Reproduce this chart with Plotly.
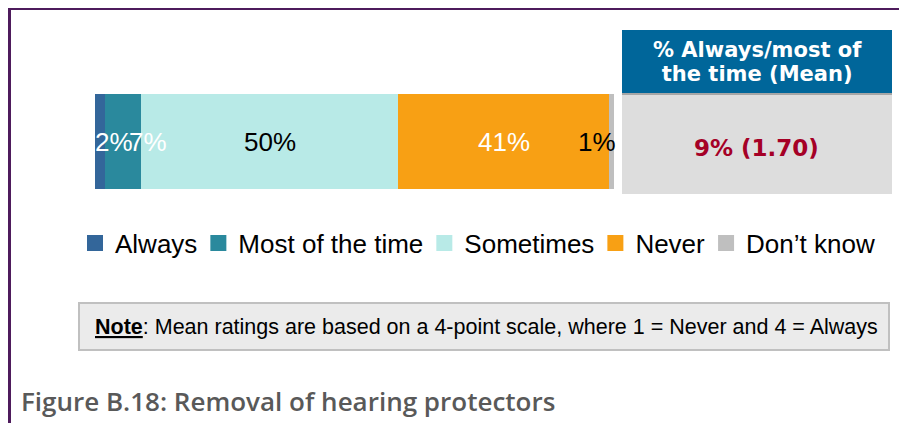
import plotly.graph_objects as go

# ---- data ----
categories = ["Always", "Most of the time", "Sometimes", "Never", "Don\u2019t know"]
values = [2, 7, 50, 41, 1]
mean_rating = 1.70
header_lines = ["% Always/most of", "the time (Mean)"]
note_text = "<b><u>Note</u></b>: Mean ratings are based on a 4-point scale, where 1 = Never and 4 = Always"
caption = "Figure B.18: Removal of hearing protectors"

# ---- styles ----
colors = ["#33669A", "#2A899D", "#B8EAE7", "#F8A014", "#BFBFBF"]
label_colors = ["white", "white", "black", "white", "black"]
label_shift = [14, 25, 0, 0, -14]

OFF = 8                      # page body margin
W, H = 907 - OFF, 423 - OFF  # figure size
BAR_L, BAR_R = 95, 614       # page px where the stacked bar starts / ends
PLOT_R = 892                 # page px where plot area ends (room for legend)
BAR_T, BAR_B = 94, 189
ML = BAR_L - OFF
MR = W - (PLOT_R - OFF)
MT = BAR_T - OFF
MB = H - (BAR_B - OFF)
PW, PH = W - ML - MR, H - MT - MB
SANS = "Liberation Sans, Arial, sans-serif"
VERD = "Verdana, DejaVu Sans, sans-serif"


def PX(x):
    """page pixel x -> paper x"""
    return (x - OFF - ML) / PW


def PY(y):
    """page pixel y -> paper y"""
    return (H - MB - (y - OFF)) / PH


total = sum(values)
x_max = total * (PLOT_R - BAR_L) / (BAR_R - BAR_L)

fig = go.Figure()

for cat, v, c in zip(categories, values, colors):
    fig.add_trace(go.Bar(
        x=[v], y=[0], orientation="h", width=1,
        marker=dict(color=c, line=dict(width=0)),
        name=cat, legendgroup=cat, showlegend=False,
        hoverinfo="x+name",
    ))
    fig.add_trace(go.Scatter(
        x=[None], y=[None], mode="markers",
        marker=dict(symbol="square", size=16, color=c, line=dict(width=0)),
        name=cat, legendgroup=cat, showlegend=True,
    ))

annotations = []
base = 0
for v, tc, sh in zip(values, label_colors, label_shift):
    annotations.append(dict(
        x=base + v / 2, y=0, xref="x", yref="y", text=f"{v}%",
        showarrow=False, xshift=sh, font=dict(family=SANS, size=26, color=tc),
    ))
    base += v

top_pct = values[0] + values[1]
shapes = [
    # header box
    dict(type="rect", xref="paper", yref="paper", x0=PX(622), x1=PX(892), y0=PY(93), y1=PY(30),
         fillcolor="#00669A", line=dict(width=0), layer="below"),
    dict(type="rect", xref="paper", yref="paper", x0=PX(622), x1=PX(892), y0=PY(95), y1=PY(93),
         fillcolor="#A6A6A6", line=dict(width=0), layer="below"),
    dict(type="rect", xref="paper", yref="paper", x0=PX(622), x1=PX(892), y0=PY(194), y1=PY(95),
         fillcolor="#DDDDDD", line=dict(width=0), layer="below"),
    # note box
    dict(type="rect", xref="paper", yref="paper", x0=PX(79), x1=PX(889), y0=PY(350), y1=PY(303),
         fillcolor="#EBEBEB", line=dict(width=2, color="#C0C0C0"), layer="below"),
    # frame
    dict(type="rect", xref="paper", yref="paper", x0=PX(OFF), x1=PX(903), y0=PY(OFF + 2), y1=PY(OFF),
         fillcolor="#4E1B5C", line=dict(width=0)),
    dict(type="rect", xref="paper", yref="paper", x0=PX(OFF), x1=PX(OFF + 3), y0=PY(440), y1=PY(OFF),
         fillcolor="#4E1B5C", line=dict(width=0)),
    dict(type="rect", xref="paper", yref="paper", x0=PX(901), x1=PX(903), y0=PY(440), y1=PY(OFF),
         fillcolor="#9C86A6", line=dict(width=0)),
]

# header: base font sets line spacing, inline span sets glyph size
header_html = "<br>".join(
    f"<b><span style='font-size:21px'>{ln}</span></b>" for ln in header_lines
)
annotations.append(dict(
    x=PX(757), y=PY(62), xref="paper", yref="paper", text=header_html,
    showarrow=False, xanchor="center", yanchor="middle",
    font=dict(family=VERD, size=18.5, color="white"),
))
annotations.append(dict(
    x=PX(756), y=PY(148), xref="paper", yref="paper",
    text=f"<b>{top_pct}% ({mean_rating:.2f})</b>",
    showarrow=False, xanchor="center", yanchor="middle",
    font=dict(family=VERD, size=23, color="#A50026"),
))
annotations.append(dict(
    x=PX(93), y=PY(327), xref="paper", yref="paper", text=note_text,
    showarrow=False, xanchor="left", yanchor="middle",
    font=dict(family=SANS, size=21.5, color="black"),
))
annotations.append(dict(
    x=PX(19), y=PY(401), xref="paper", yref="paper", text=caption,
    showarrow=False, xanchor="left", yanchor="middle",
    font=dict(family="Open Sans, Noto Sans, sans-serif", size=26, color="#595959", weight=600),
))

fig.update_layout(
    width=W, height=H,
    margin=dict(l=ML, r=MR, t=MT, b=MB, pad=0),
    barmode="stack", bargap=0,
    paper_bgcolor="white", plot_bgcolor="rgba(0,0,0,0)",
    xaxis=dict(range=[0, x_max], visible=False, fixedrange=True),
    yaxis=dict(range=[-0.5, 0.5], visible=False, fixedrange=True),
    legend=dict(
        orientation="h", xref="paper", yref="paper",
        x=PX(79), y=PY(243), xanchor="left", yanchor="middle",
        indentation=-4,
        font=dict(family=SANS, size=26, color="black"),
        bgcolor="rgba(0,0,0,0)", traceorder="normal", itemclick=False,
    ),
    shapes=shapes,
    annotations=annotations,
    showlegend=True,
)

fig.write_html("out.html")
